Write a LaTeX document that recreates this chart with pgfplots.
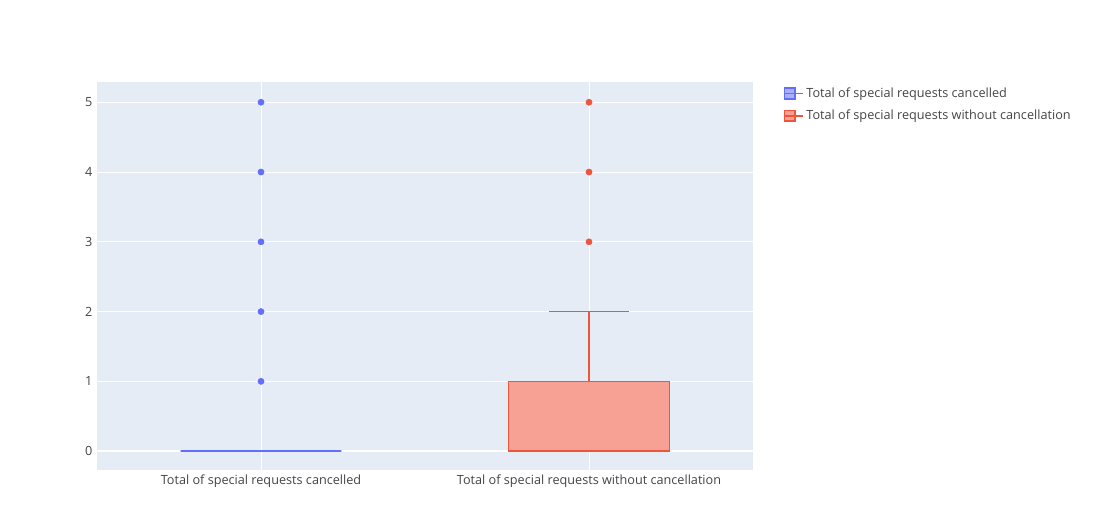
\documentclass[border=0pt]{standalone}
\usepackage{pgfplots}
\pgfplotsset{compat=1.18}
\usepgfplotslibrary{statistics}
\usepackage{fontspec}
\setmainfont{Open Sans}
\definecolor{pblue}{HTML}{636EFA}
\definecolor{pred}{HTML}{EF553B}
\definecolor{pbg}{HTML}{E5ECF6}
\definecolor{ptxt}{HTML}{444444}
\begin{document}
\begin{tikzpicture}
\useasboundingbox (-72.75pt,-44.25pt) rectangle (766.5pt,352.5pt);
\begin{axis}[
  at={(0,0)}, anchor=south west,
  scale only axis, width=492pt, height=291pt,
  xmin=-0.5, xmax=1.5, ymin=-0.27, ymax=5.29,
  axis background/.style={fill=pbg},
  axis line style={draw=none},
  major tick length=0pt,
  grid=both, grid style={white, line width=0.6pt},
  xtick={0,1},
  xticklabels={Total of special requests cancelled, Total of special requests without cancellation},
  ytick={0,1,2,3,4,5},
  tick label style={font=\fontsize{9.5}{11}\selectfont, text=ptxt},
  /pgf/number format/assume math mode=true,
  legend style={at={(1.04,1)}, anchor=north west, draw=none, fill=none,
    font=\fontsize{9.5}{11}\selectfont, text=ptxt, row sep=4pt},
  legend cell align=left,
  legend image code/.code={\draw[#1] (0pt,-4pt) rectangle (8pt,4pt); \path (0pt,0pt) -- (14pt,0pt);},
  boxplot/draw direction=y,
  boxplot/box extend=0.49,
  boxplot/whisker extend=0.245,
]
\draw[white, line width=1.6pt] (axis cs:-0.5,0) -- (axis cs:1.5,0);
\addplot[forget plot, pblue, line width=1.2pt, fill=pblue, fill opacity=0.5,
  boxplot prepared={draw position=0, lower whisker=0, lower quartile=0, median=0, upper quartile=0, upper whisker=0}]
  coordinates {};
\addplot[forget plot, only marks, mark=*, mark size=2.3pt, pblue] coordinates {(0,1)(0,2)(0,3)(0,4)(0,5)};
\addplot[forget plot, pred, line width=1.2pt, fill=pred!55!white,
  boxplot prepared={draw position=1, lower whisker=0, lower quartile=0, median=0, upper quartile=1, upper whisker=2}]
  coordinates {};
\addplot[forget plot, only marks, mark=*, mark size=2.3pt, pred] coordinates {(1,3)(1,4)(1,5)};
\addlegendimage{draw=pblue, line width=1.2pt, fill=pblue!55!white}
\addlegendentry{Total of special requests cancelled}
\addlegendimage{draw=pred, line width=1.2pt, fill=pred!55!white}
\addlegendentry{Total of special requests without cancellation}
\end{axis}
\end{tikzpicture}
\end{document}
